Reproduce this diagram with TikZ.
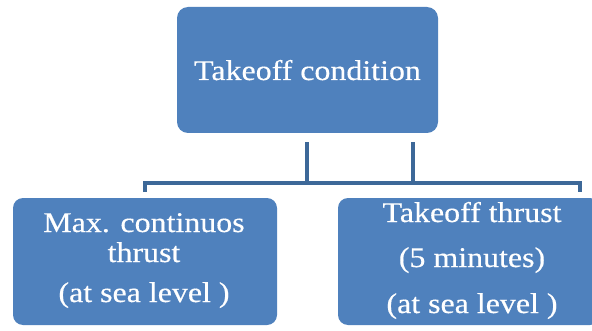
\documentclass[tikz,border=0pt]{standalone}
\usepackage{fontspec}
\setmainfont{Liberation Serif}[FakeStretch=1.12,FakeBold=0.4]
\definecolor{boxblue}{HTML}{4F81BD}
\definecolor{lineblue}{HTML}{3D6898}
\begin{document}
\begin{tikzpicture}[x=1pt,y=1pt,
  box/.style={fill=boxblue, draw=none, rounded corners=11pt},
  txt/.style={text=white, font=\fontsize{28.5}{30}\selectfont, anchor=base, inner sep=0pt},
  conn/.style={draw=lineblue, line width=4.5pt}]
\useasboundingbox (0,0) rectangle (592,330);
% boxes (y = 330 - pixel row)
\path[box] (177,197) rectangle (438,323);
\node[txt] (ttop) at (307.5,250) {Takeoff condition};
\path[box, rounded corners=10pt] (13,5) rectangle (277,132);
\path[box, rounded corners=10pt] (338,5) rectangle (600,132);
% left box text
\node[txt] (l1) at (144,98) {Max. continuos};
\node[txt] (l2) at (144,68) {thrust};
\node[txt] (l3) at (144,28) {(at sea level )};
% right box text
\node[txt] (r1) at (472,108) {Takeoff thrust};
\node[txt] (r2) at (472,63) {(5 minutes)};
\node[txt] (r3) at (472,17) {(at sea level )};
% connectors
\coordinate (v1t) at (307,188);
\coordinate (v1b) at (307,147);
\coordinate (v2t) at (413,188);
\coordinate (v2b) at (413,147);
\coordinate (hl) at (145,147);
\coordinate (hr) at (580,147);
\coordinate (dl) at (145,138);
\coordinate (dr) at (580,138);
\draw[conn] (v1t) -- (v1b);
\draw[conn] (v2t) -- (v2b);
\draw[conn] (dl) -- (hl) -- (hr) -- (dr);
\end{tikzpicture}
\end{document}
